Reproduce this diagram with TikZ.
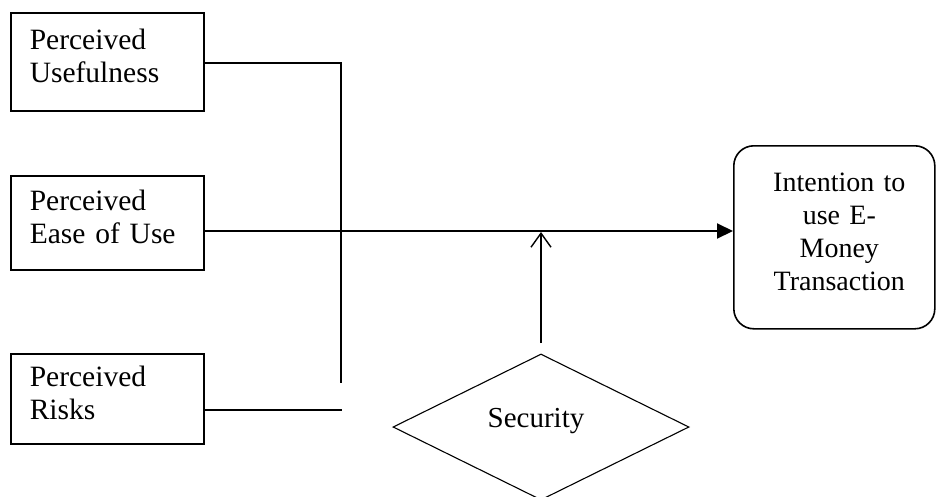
\documentclass[tikz,border=0pt]{standalone}
\usepackage{fontspec}
\setmainfont{Liberation Serif}
\usetikzlibrary{shapes.geometric,arrows.meta}
\newcommand{\lowpad}{\rule[-12pt]{0pt}{0pt}}
\begin{document}
\begin{tikzpicture}[x=1pt,y=-1pt,
  every node/.style={font=\fontsize{29.5}{33.5}\selectfont},
  factor/.style={draw,line width=1.6pt,minimum width=193pt,text width=155pt,align=left,inner sep=0pt,anchor=north west},
  outcome/.style={draw,line width=1.6pt,rounded corners=20pt,minimum width=201pt,minimum height=183pt,text width=195pt,align=center,inner sep=0pt,anchor=north west,font=\fontsize{28}{33}\selectfont},
  moderator/.style={draw,line width=1.1pt,diamond,aspect=2,minimum width=296pt,minimum height=146pt,inner sep=0pt,font=\fontsize{29}{33}\selectfont},
  link/.style={line width=1.4pt},
  mainlink/.style={line width=2pt,-{Triangle[length=16pt,width=15pt]}},
  modlink/.style={line width=1.4pt,-{Straight Barb[length=14pt,width=20pt]}}]
\useasboundingbox (0,0) rectangle (936,496);
\node[factor,minimum height=98pt] (pu) at (10,12) {Perceived\\Usefulness\lowpad};
\node[factor,minimum height=94pt] (pe) at (10,175) {Perceived\\Ease of Use\lowpad};
\node[factor,minimum height=90pt] (pr) at (10,353) {Perceived\\Risks\lowpad};
\node[outcome] (it) at (733,145) {\hspace*{10pt}Intention to\\\hspace*{10pt}use E-\\\hspace*{10pt}Money\\\hspace*{10pt}Transaction\lowpad};
\node[moderator] (sec) at (541,427) {\raisebox{0pt}[0pt][0pt]{\makebox[0pt]{\hspace*{-10pt}Security}}};
\coordinate (pucorner) at (341,63);
\coordinate (puend) at (341,383);
\coordinate (prend) at (342,410);
\coordinate (modstart) at (541,343);
\coordinate (modend) at (541,232);
\draw[link] (pu.east |- pucorner) -- (pucorner) -- (puend);
\draw[link] (pr.east |- prend) -- (prend);
\draw[mainlink] (pe.east |- 0,231) -- (it.west |- 0,231);
\draw[modlink] (modstart) -- (modend);
\end{tikzpicture}
\end{document}
